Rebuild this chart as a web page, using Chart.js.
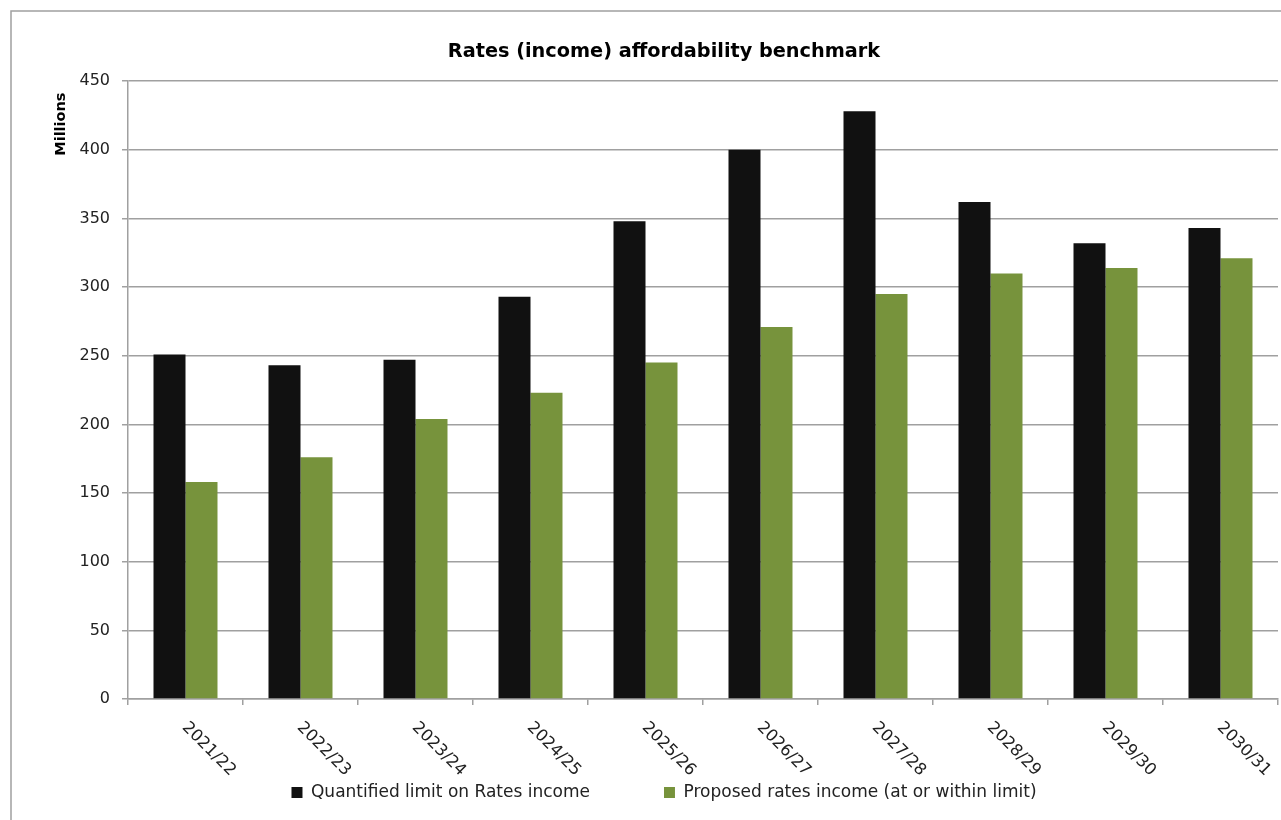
<!DOCTYPE html>
<html>
<head>
<meta charset="utf-8">
<title>Rates (income) affordability benchmark</title>
<script src="https://cdn.jsdelivr.net/npm/chart.js@4.4.1/dist/chart.umd.min.js"></script>
<style>
    html, body { margin: 0; padding: 0; background: #fff; overflow: hidden; }
    canvas { display: block; }
</style>
</head>
<body>
<canvas id="myChart" width="1281" height="820"></canvas>
<script>
// values (millions)
var years = ['2021/22', '2022/23', '2023/24', '2024/25', '2025/26', '2026/27', '2027/28', '2028/29', '2029/30', '2030/31'];
var limitValues = [251, 243, 247, 293, 348, 400, 428, 362, 332, 343];
var proposedValues = [158, 176, 204, 223, 245, 271, 295, 310, 314, 321];
var yTicks = [0, 50, 100, 150, 200, 250, 300, 350, 400, 450];

var gridGrey = '#a0a0a0';
var fontFamily = '"DejaVu Sans", sans-serif';

// outer frame, slanted year labels and the "Millions" caption, the way Excel draws them
var excelLook = {
    id: 'excelLook',
    beforeDraw: function (chart) {
        var ctx = chart.ctx;
        ctx.save();
        ctx.strokeStyle = gridGrey;
        ctx.lineWidth = 1.5;
        ctx.strokeRect(11, 11, chart.width + 40, chart.height + 40);
        ctx.restore();
    },
    afterDraw: function (chart) {
        var ctx = chart.ctx;
        var xScale = chart.scales.x;
        ctx.save();
        ctx.fillStyle = '#222';
        ctx.font = '16.5px ' + fontFamily;
        ctx.textAlign = 'left';
        ctx.textBaseline = 'alphabetic';
        years.forEach(function (year, i) {
            ctx.save();
            ctx.translate(xScale.getPixelForValue(i) - 4, chart.chartArea.bottom + 29);
            ctx.rotate(Math.PI / 4);
            ctx.fillText(year, 0, 0);
            ctx.restore();
        });
        ctx.fillStyle = '#000';
        ctx.font = 'bold 14.5px ' + fontFamily;
        ctx.textAlign = 'center';
        ctx.translate(65, chart.chartArea.top + 43);
        ctx.rotate(-Math.PI / 2);
        ctx.fillText('Millions', 0, 0);
        ctx.restore();
    }
};

var ctx = document.getElementById('myChart').getContext('2d');
var chart = new Chart(ctx, {
    type: 'bar',
    data: {
        labels: years,
        datasets: [{
            label: 'Quantified limit on Rates income',
            data: limitValues,
            backgroundColor: '#111111',
            borderWidth: 0,
            categoryPercentage: 0.5565,
            barPercentage: 1
        }, {
            label: 'Proposed rates income (at or within limit)',
            data: proposedValues,
            backgroundColor: '#77933c',
            borderWidth: 0,
            categoryPercentage: 0.5565,
            barPercentage: 1
        }]
    },
    options: {
        responsive: false,
        animation: false,
        layout: {
            padding: { top: 0, left: 50, right: 3, bottom: 9 }
        },
        plugins: {
            title: {
                display: true,
                text: 'Rates (income) affordability benchmark',
                color: '#000',
                font: { family: fontFamily, size: 19.3, weight: 'bold' },
                padding: { top: 40, bottom: 18 }
            },
            legend: {
                position: 'bottom',
                labels: {
                    boxWidth: 11,
                    boxHeight: 11,
                    padding: 74,
                    color: '#222',
                    font: { family: fontFamily, size: 17 }
                }
            },
            tooltip: { enabled: false }
        },
        scales: {
            x: {
                grid: {
                    drawOnChartArea: false,
                    drawTicks: true,
                    tickLength: 6,
                    color: gridGrey,
                    lineWidth: 1.5
                },
                border: { color: gridGrey, width: 1.5 },
                ticks: { display: false },
                afterFit: function (scale) { scale.height = 11; }
            },
            y: {
                min: yTicks[0],
                max: yTicks[yTicks.length - 1],
                grid: {
                    color: gridGrey,
                    lineWidth: 1.5,
                    tickLength: 6
                },
                border: { color: gridGrey, width: 1.5 },
                ticks: {
                    stepSize: yTicks[1] - yTicks[0],
                    padding: 12,
                    color: '#222',
                    font: { family: fontFamily, size: 16 }
                },
                afterFit: function (scale) { scale.width = 78; }
            }
        }
    },
    plugins: [excelLook]
});
</script>
</body>
</html>
